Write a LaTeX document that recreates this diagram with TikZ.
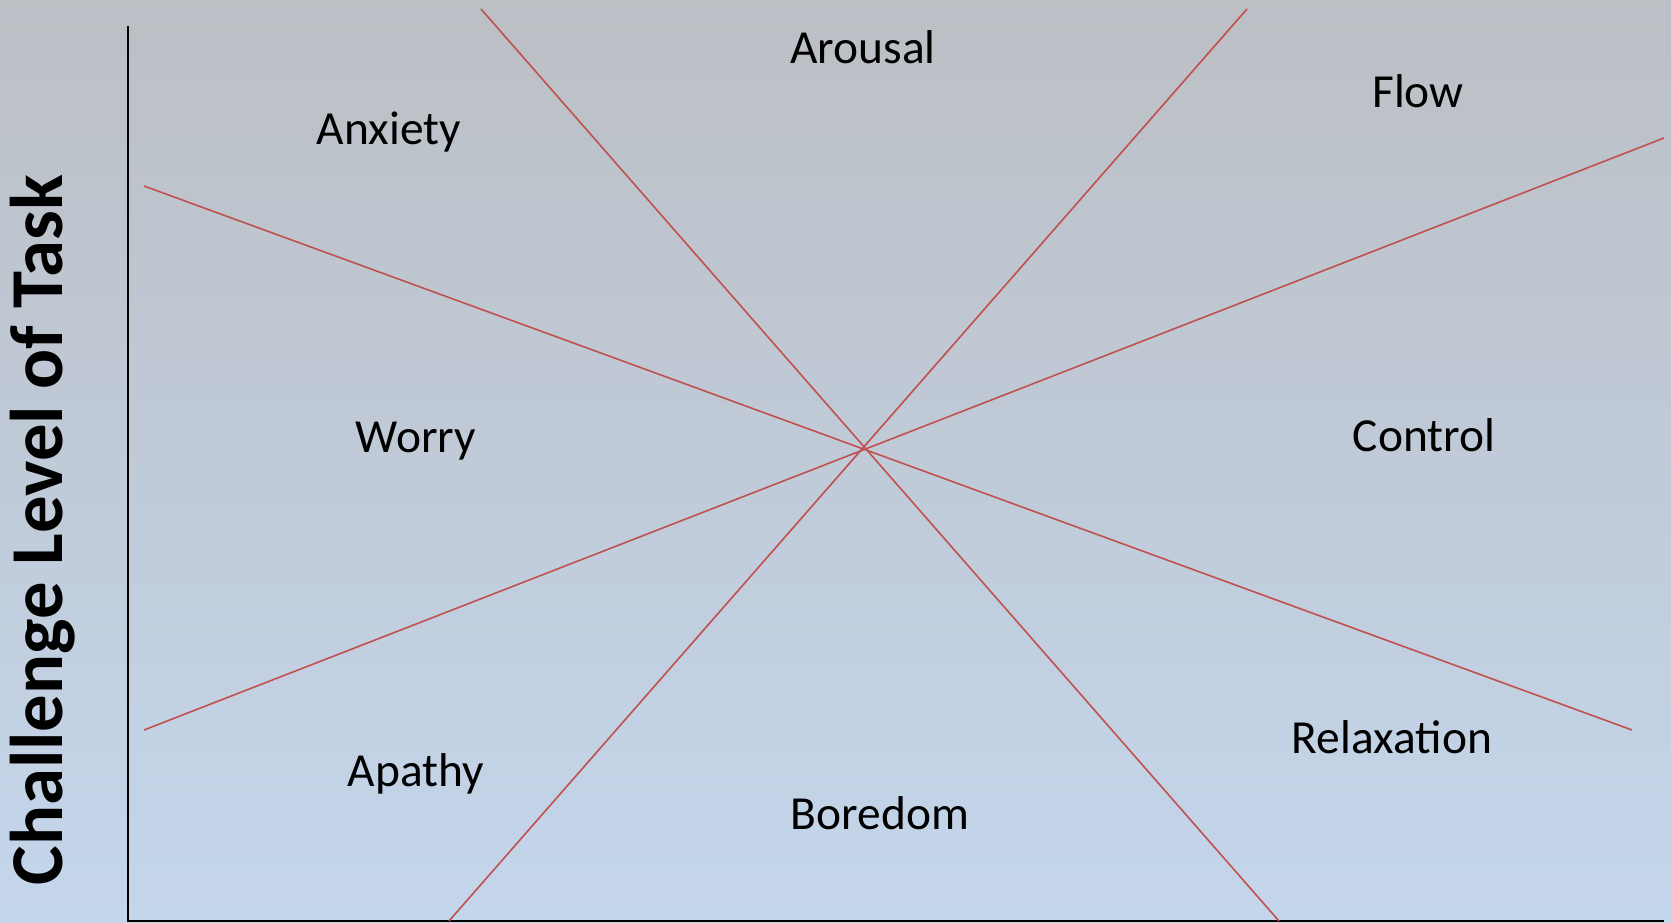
\documentclass[tikz,border=0pt]{standalone}
\usepackage{fontspec}
\setmainfont{Carlito}
\usepackage{tikz}
\definecolor{topgray}{RGB}{188,191,196}
\definecolor{botblue}{RGB}{196,214,236}
\definecolor{zonered}{RGB}{192,80,77}
\tikzset{
  zone/.style={inner sep=0pt,anchor=base,font=\fontsize{27pt}{32pt}\selectfont},
  divider/.style={draw=zonered,line width=0.9pt},
  axis/.style={draw=black,line width=1.1pt},
}

\begin{document}
\begin{tikzpicture}[x=0.02cm,y=-0.02cm]
\useasboundingbox (0,0) rectangle (1671,923);
\shade[top color=topgray,bottom color=botblue] (0,0) rectangle (1671,923);

% axes
\coordinate (ytop) at (128,26);
\coordinate (orig) at (128,921);
\coordinate (xend) at (1664,921);
\draw[axis] (ytop) -- (orig) -- (xend);

% dividing lines through the centre
\coordinate (c) at (864,448);
\coordinate (a1) at (481,9);    \coordinate (a2) at (1279,921);
\coordinate (b1) at (1247,9);   \coordinate (b2) at (449,921);
\coordinate (d1) at (144,186);  \coordinate (d2) at (1632,730);
\coordinate (e1) at (144,730);  \coordinate (e2) at (1664,138);
\draw[divider] (a1) -- (a2);
\draw[divider] (b1) -- (b2);
\draw[divider] (d1) -- (d2);
\draw[divider] (e1) -- (e2);

% zones
\node[zone] (arousal) at (863,63) {Arousal};
\node[zone] (flow) at (1418,107) {Flow};
\node[zone] (anxiety) at (389,144) {Anxiety};
\node[zone] (worry) at (416,452) {Worry};
\node[zone] (control) at (1424,451) {Control};
\node[zone] (apathy) at (416,786) {Apathy};
\node[zone] (boredom) at (880,829) {Boredom};
\node[zone] (relax) at (1392,753) {Relaxation};

\node[inner sep=0pt,anchor=base,rotate=90,font=\bfseries\fontsize{42.5pt}{48pt}\selectfont]
  (ylabel) at (62,530) {Challenge Level of Task};
\end{tikzpicture}
\end{document}
